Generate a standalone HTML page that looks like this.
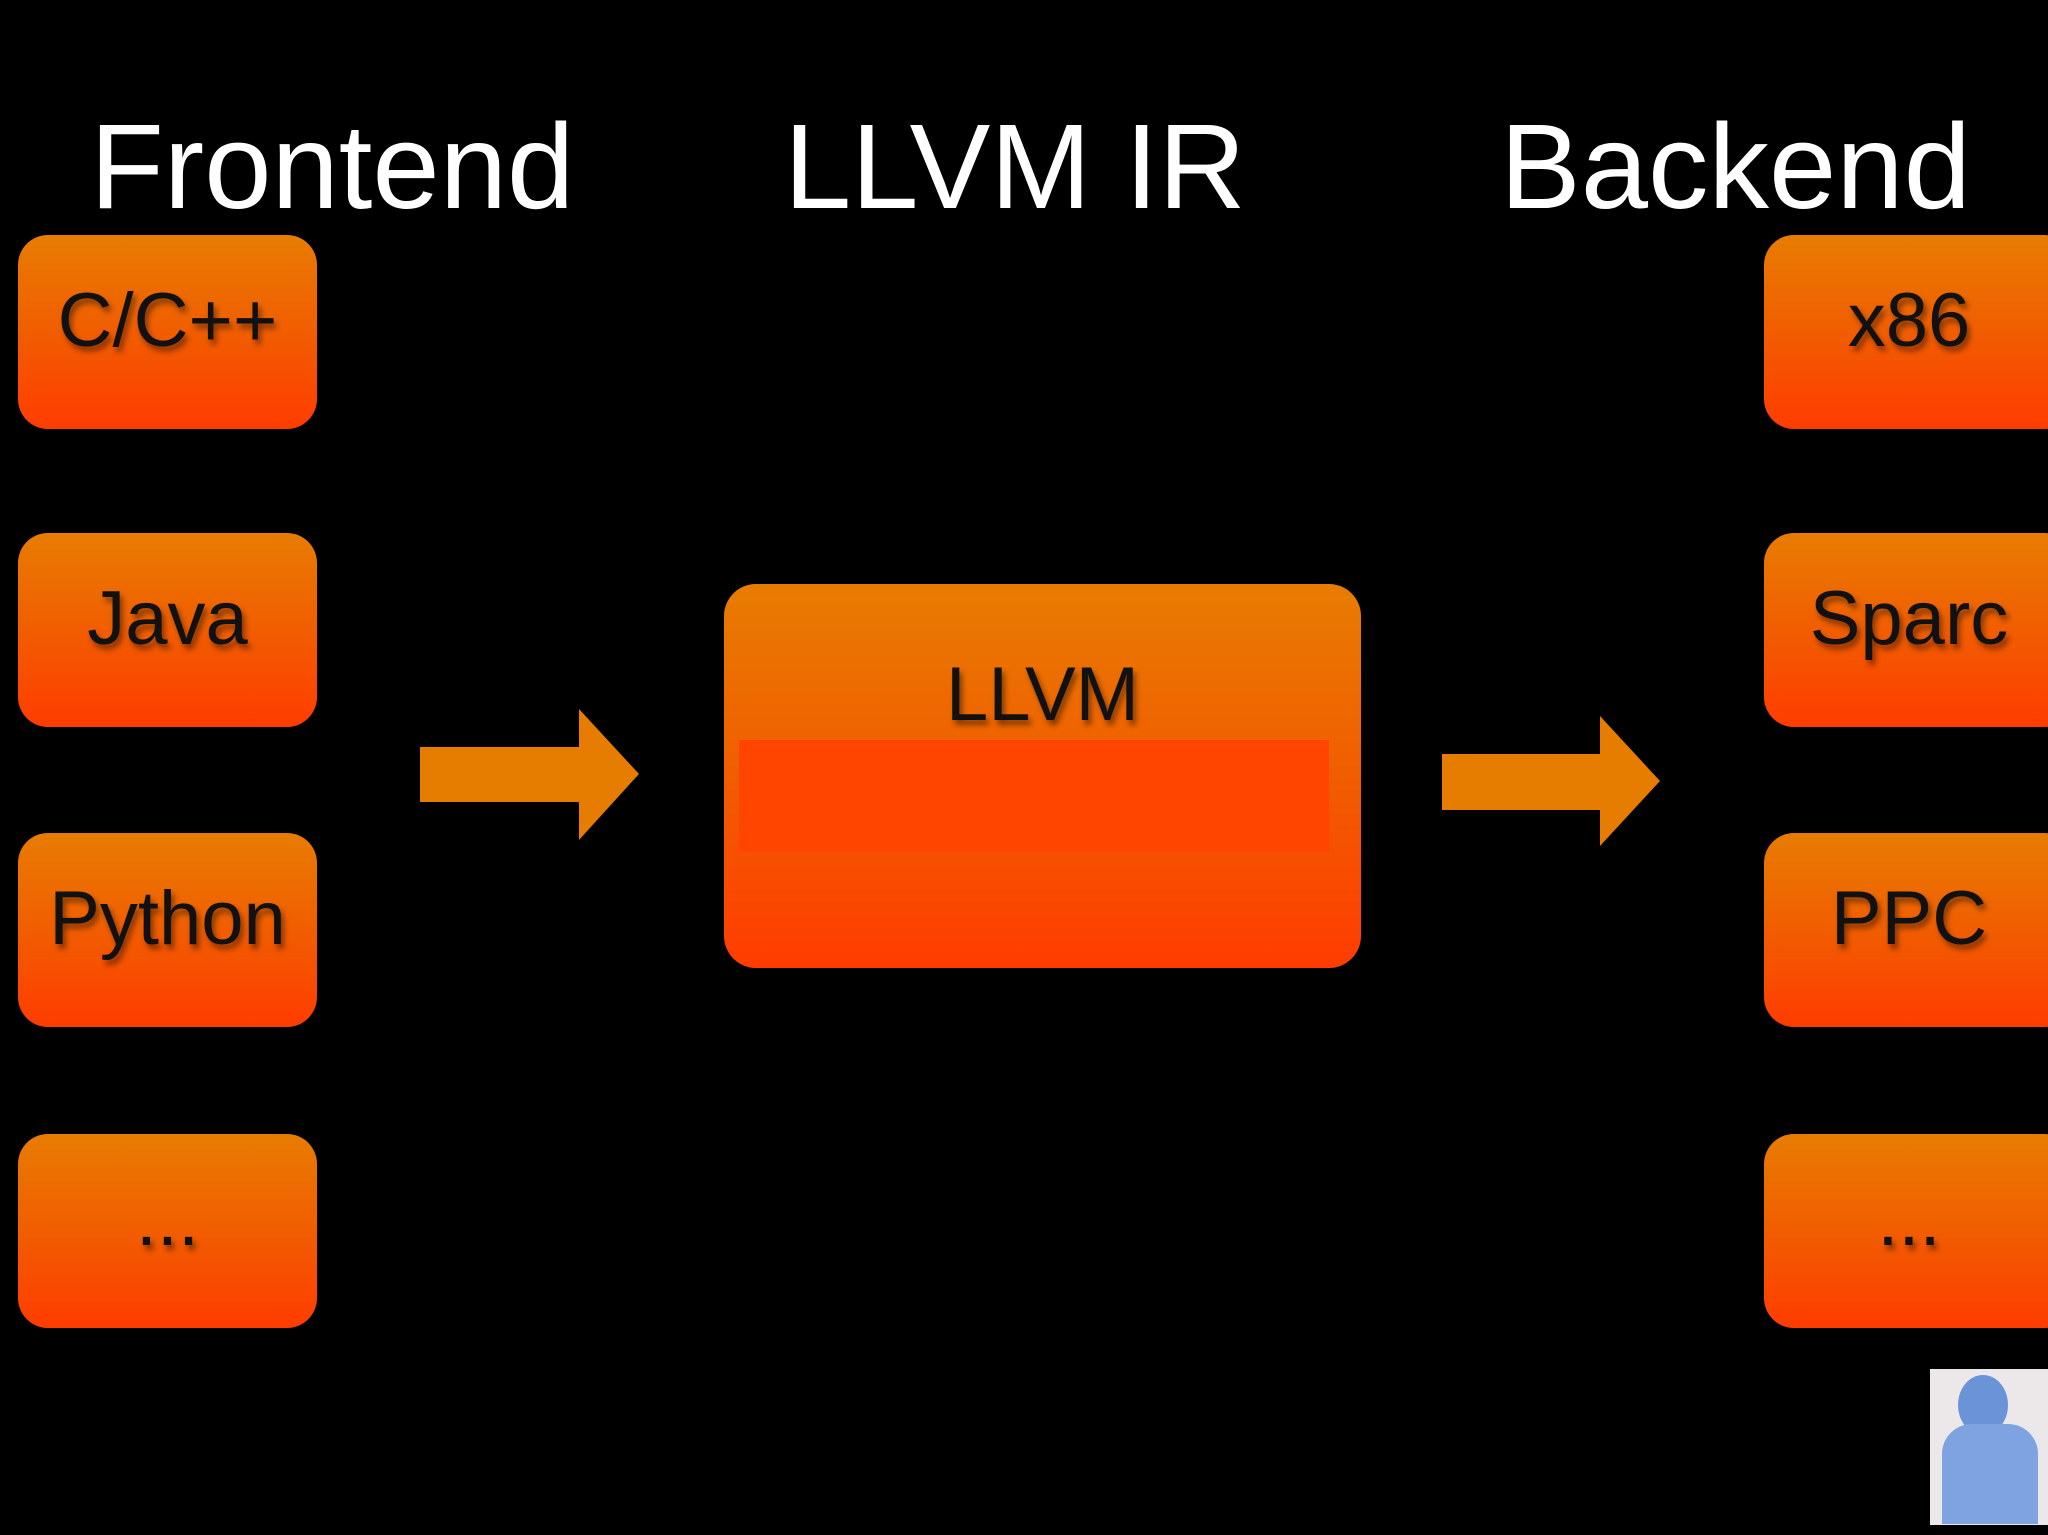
<!DOCTYPE html>
<html><head><meta charset="utf-8"><style>
html,body{margin:0;padding:0;background:#000;}
body{width:2048px;height:1535px;position:relative;overflow:hidden;font-family:"Liberation Sans",sans-serif;}
.t{position:absolute;color:#fff;font-size:121px;top:96px;line-height:140px;white-space:nowrap;}
.b{position:absolute;width:299px;height:194px;border-radius:30px;background:linear-gradient(#e87c02,#f25a00 55%,#ff3c00);}
.b span{position:absolute;left:0;right:0;top:0;bottom:24px;display:flex;align-items:center;justify-content:center;font-size:76px;color:#111;text-shadow:3px 5px 6px rgba(0,0,0,.45);}
</style></head><body>
<div class="t" style="left:90px">Frontend</div>
<div class="t" style="left:784px">LLVM IR</div>
<div class="t" style="left:1500px">Backend</div>

<div class="b" style="left:18px;top:235px"><span>C/C++</span></div>
<div class="b" style="left:18px;top:533px"><span>Java</span></div>
<div class="b" style="left:18px;top:833px"><span>Python</span></div>
<div class="b" style="left:18px;top:1134px"><span>...</span></div>

<div class="b" style="left:1764px;top:235px;width:310px"><span style="right:20px">x86</span></div>
<div class="b" style="left:1764px;top:533px;width:310px"><span style="right:20px">Sparc</span></div>
<div class="b" style="left:1764px;top:833px;width:310px"><span style="right:20px">PPC</span></div>
<div class="b" style="left:1764px;top:1134px;width:310px"><span style="right:20px">...</span></div>

<div class="b" style="left:724px;top:584px;width:637px;height:384px;border-radius:32px;">
  <div style="position:absolute;left:15px;top:156px;width:590px;height:112px;background:#ff4500;"></div>
  <span style="bottom:auto;height:220px;top:0;">LLVM</span>
</div>

<svg style="position:absolute;left:0;top:0" width="2048" height="1535">
  <polygon points="420,747 579,747 579,709 639,774 579,840 579,802 420,802" fill="#e67c00"/>
  <polygon points="1442,754 1600,754 1600,716 1660,781 1600,846 1600,810 1442,810" fill="#e67c00"/>
</svg>

<div style="position:absolute;left:1930px;top:1369px;width:118px;height:156px;background:#ece8ea;">
  <div style="position:absolute;left:28px;top:6px;width:50px;height:60px;border-radius:50%;background:#6b94d8;"></div>
  <div style="position:absolute;left:12px;top:55px;width:96px;height:100px;border-radius:30px 30px 0 0;background:#7ea3e0;"></div>
</div>
</body></html>
